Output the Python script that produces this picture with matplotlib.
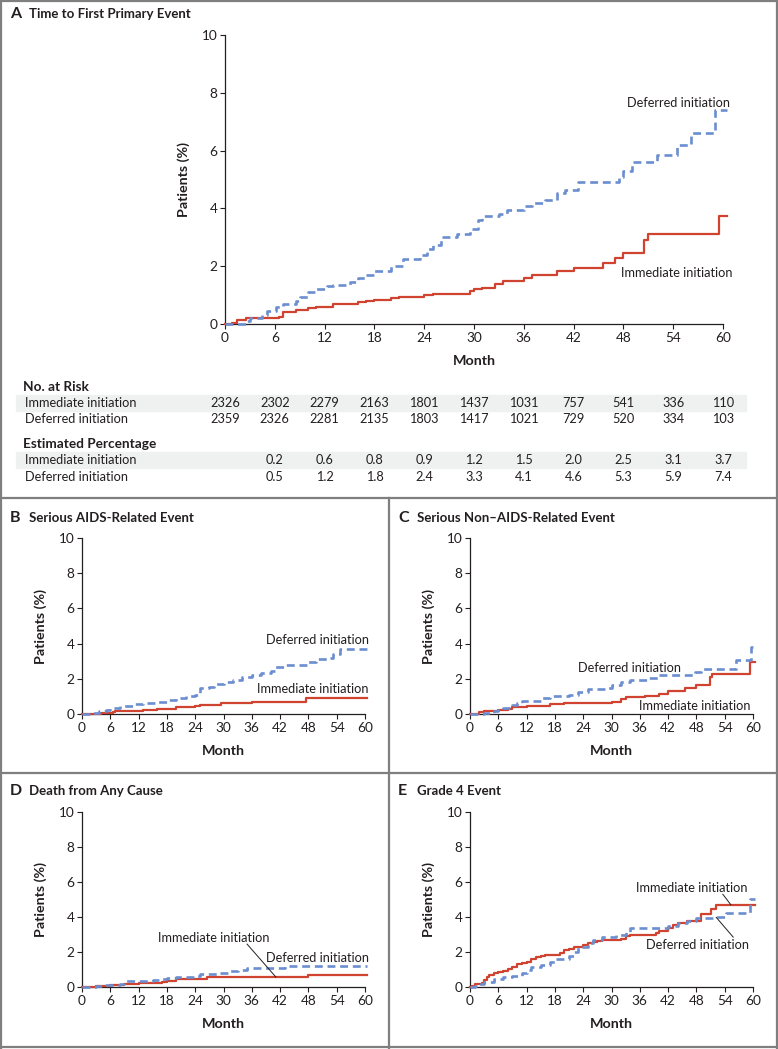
import matplotlib
matplotlib.use("Agg")
import matplotlib.pyplot as plt
import matplotlib.transforms as mtransforms
from matplotlib.patches import Rectangle
from matplotlib.lines import Line2D

plt.rcParams['font.family'] = ['Lato', 'DejaVu Sans']

# ---------------- data ----------------
risk_months = [0, 6, 12, 18, 24, 30, 36, 42, 48, 54, 60]
risk_immediate = [2326, 2302, 2279, 2163, 1801, 1437, 1031, 757, 541, 336, 110]
risk_deferred = [2359, 2326, 2281, 2135, 1803, 1417, 1021, 729, 520, 334, 103]

est_months = [6, 12, 18, 24, 30, 36, 42, 48, 54, 60]
est_immediate = ["0.2", "0.6", "0.8", "0.9", "1.2", "1.5", "2.0", "2.5", "3.1", "3.7"]
est_deferred = ["0.5", "1.2", "1.8", "2.4", "3.3", "4.1", "4.6", "5.3", "5.9", "7.4"]

# A: time to first primary event (month, cumulative %)
a_imm_t = [0, 0.8, 1.5, 2.5, 6.5, 7, 8.5, 10, 11, 13, 16, 17, 18, 20, 21, 24, 25, 29.5, 30,
           31, 32.5, 33.5, 36, 37, 40, 42, 45.5, 47, 48, 50.5, 51, 59.5, 60.5]
a_imm_p = [0, 0.05, 0.15, 0.2, 0.25, 0.4, 0.5, 0.55, 0.6, 0.7, 0.75, 0.8, 0.82, 0.9, 0.95, 1.0, 1.05,
           1.15, 1.2, 1.25, 1.4, 1.5, 1.6, 1.7, 1.85, 1.95, 2.1, 2.3, 2.45, 2.9, 3.1, 3.75, 3.75]
a_def_t = [0, 2.5, 3, 4.5, 5, 6.2, 7, 8.5, 9, 10, 11, 12.3, 13, 15, 16, 17, 18, 20, 21.5, 23.5,
           24.3, 25, 26, 28, 29.5, 30.5, 31, 33, 34, 36, 37, 38.5, 40, 41, 42.5, 47.5, 48, 49,
           52, 54.4, 56.2, 59, 60.5]
a_def_p = [0, 0.1, 0.2, 0.3, 0.45, 0.6, 0.7, 0.8, 0.95, 1.1, 1.2, 1.3, 1.35, 1.45, 1.6, 1.7, 1.85,
           2.0, 2.25, 2.4, 2.6, 2.75, 3.0, 3.1, 3.3, 3.6, 3.75, 3.8, 3.95, 4.1, 4.2, 4.3, 4.55,
           4.65, 4.9, 5.1, 5.3, 5.6, 5.85, 6.2, 6.6, 7.4, 7.4]

# B: serious AIDS-related event
b_imm_t = [0, 4, 6.5, 7, 13, 16, 20, 24, 25, 29.5, 36, 47.5, 60.5]
b_imm_p = [0, 0.05, 0.1, 0.15, 0.25, 0.3, 0.4, 0.45, 0.5, 0.6, 0.7, 0.9, 0.9]
b_def_t = [0, 2, 3.5, 5, 6, 8, 11, 13, 16, 18, 20, 22, 24, 25, 27, 28, 30, 32, 34, 36, 38, 40,
           41, 43, 48, 49.7, 52, 53.3, 54.7, 60.5]
b_def_p = [0, 0.05, 0.15, 0.25, 0.35, 0.45, 0.55, 0.6, 0.7, 0.8, 0.9, 1.0, 1.1, 1.5, 1.55, 1.7,
           1.8, 1.95, 2.1, 2.2, 2.35, 2.45, 2.65, 2.8, 2.95, 3.15, 3.2, 3.4, 3.7, 3.7]

# C: serious non-AIDS-related event
c_imm_t = [0, 2, 3, 6, 8, 9, 12, 17, 20, 22, 30, 32, 33, 37, 40, 42, 45.5, 48, 50.8, 51.3,
           59.4, 60.5]
c_imm_p = [0, 0.1, 0.15, 0.2, 0.3, 0.4, 0.45, 0.55, 0.6, 0.65, 0.7, 0.85, 0.95, 1.05, 1.15, 1.3,
           1.45, 1.65, 2.1, 2.3, 2.95, 2.95]
c_def_t = [0, 3, 5, 6, 7, 9, 10, 11, 15, 17, 21, 23, 25, 29, 30, 32, 34, 38, 40, 47.6, 49,
           56.5, 59.5, 60.5]
c_def_p = [0, 0.05, 0.15, 0.25, 0.35, 0.5, 0.65, 0.75, 0.9, 1.0, 1.1, 1.25, 1.4, 1.5, 1.65, 1.8,
           1.95, 2.05, 2.2, 2.4, 2.55, 3.05, 3.8, 3.8]

# D: death from any cause
d_imm_t = [0, 3, 6, 9, 12, 17, 18, 20, 26.5, 48, 60.5]
d_imm_p = [0, 0.05, 0.1, 0.2, 0.25, 0.3, 0.35, 0.45, 0.55, 0.7, 0.7]
d_def_t = [0, 3, 5, 8, 9, 15, 17, 18, 20, 23, 24, 25, 29, 31, 33, 35, 43, 60.5]
d_def_p = [0, 0.05, 0.1, 0.2, 0.35, 0.4, 0.45, 0.5, 0.55, 0.6, 0.65, 0.75, 0.8, 0.9, 1.0, 1.1,
           1.2, 1.2]

# E: grade 4 event
e_imm_t = [0, 0.5, 1, 2.5, 3, 3.5, 4, 5, 6, 7, 8, 9, 10, 11, 12, 13, 14, 15, 16, 19, 20, 21,
           22, 24, 25, 26, 27, 28, 32, 33, 34, 39.5, 40, 42, 43, 44, 46, 47, 49, 51, 52.2, 60.5]
e_imm_p = [0, 0.05, 0.15, 0.25, 0.4, 0.55, 0.7, 0.8, 0.85, 0.9, 1.05, 1.15, 1.3, 1.35, 1.45, 1.6,
           1.7, 1.8, 1.85, 1.95, 2.1, 2.2, 2.3, 2.4, 2.5, 2.6, 2.65, 2.7, 2.75, 2.9, 3.0, 3.1, 3.2,
           3.4, 3.55, 3.65, 3.75, 3.8, 4.2, 4.45, 4.7, 4.7]
e_def_t = [0, 1, 2, 3, 5, 7, 9, 11, 12, 13, 15, 17, 18, 21, 22, 23, 25, 26, 28, 31, 33, 34, 42,
           44, 46, 48, 52, 54.3, 59.4, 60.5]
e_def_p = [0, 0.05, 0.15, 0.3, 0.45, 0.55, 0.65, 0.8, 1.0, 1.15, 1.25, 1.45, 1.6, 1.75, 2.0, 2.3,
           2.5, 2.7, 2.85, 3.0, 3.15, 3.4, 3.5, 3.65, 3.8, 3.95, 4.0, 4.25, 5.05, 5.05]

# ---------------- layout ----------------
W, H = 778, 1049
RED = '#cf4330'
BLUE = '#6b8ed0'
INK = '#231f20'
FRAME = '#7f7f7f'

fig = plt.figure(figsize=(W / 100, H / 100), dpi=100)


def box(left, right, top, bottom):
    return [left / W, 1 - bottom / H, (right - left) / W, (bottom - top) / H]


def km_panel(rect, imm_t, imm_p, def_t, def_p):
    ax = fig.add_axes(rect)
    ax.step(imm_t, imm_p, where='post', color=RED, lw=1.6, clip_on=False, zorder=3)
    ax.step(def_t, def_p, where='post', color=BLUE, lw=1.9, ls=(0, (3.0, 1.8)),
            clip_on=False, zorder=4)
    ax.set_xlim(0, 60)
    ax.set_ylim(0, 10)
    ax.set_xticks(risk_months)
    ax.set_yticks([0, 2, 4, 6, 8, 10])
    ax.tick_params(direction='out', length=3.5, width=0.8, colors=INK, labelsize=9.8, pad=2)
    for s in ['top', 'right']:
        ax.spines[s].set_visible(False)
    for s in ['left', 'bottom']:
        ax.spines[s].set_color(INK)
        ax.spines[s].set_linewidth(0.9)
    ax.set_facecolor('none')
    pw = rect[2] * W
    ph = rect[3] * H
    ax.set_ylabel('Patients (%)', fontsize=10.3, fontweight='bold', color=INK)
    ax.yaxis.set_label_coords(-41 / pw, 0.5)
    ax.set_xlabel('Month', fontsize=10.3, fontweight='bold', color=INK)
    ax.xaxis.set_label_coords(0.5, -37 / ph)
    ax.xaxis.label.set_va('center')
    ax.yaxis.label.set_va('center')
    return ax


def panel_title(x, y, letter, text):
    fig.text((x) / W, 1 - y / H, letter, fontsize=11.5, fontweight='bold', color=INK,
             va='center', ha='left')
    fig.text((x + 19) / W, 1 - y / H, text, fontsize=9.5, fontweight='bold', color=INK,
             va='center', ha='left')


lab = dict(fontsize=9.2, color=INK, va='center')

# Panel A
axA = km_panel(box(225, 723, 35, 324), a_imm_t, a_imm_p, a_def_t, a_def_p)
axA.text(60.8, 7.65, 'Deferred initiation', ha='right', **lab)
axA.text(61.2, 1.76, 'Immediate initiation', ha='right', **lab)
panel_title(10, 14, 'A', 'Time to First Primary Event')

# risk table
tr = mtransforms.blended_transform_factory(axA.transData, fig.transFigure)
for y in [403, 460]:
    fig.patches.append(Rectangle((16 / W, 1 - (y + 8) / H), 730 / W, 16 / H,
                                 transform=fig.transFigure, color='#eff1f1', zorder=-5))
fig.text(23 / W, 1 - 387 / H, 'No. at Risk', fontsize=9.8, fontweight='bold', color=INK,
         va='center')
fig.text(25 / W, 1 - 403 / H, 'Immediate initiation', fontsize=9.2, color=INK, va='center')
fig.text(25 / W, 1 - 419 / H, 'Deferred initiation', fontsize=9.2, color=INK, va='center')
fig.text(23 / W, 1 - 444 / H, 'Estimated Percentage', fontsize=9.8, fontweight='bold',
         color=INK, va='center')
fig.text(25 / W, 1 - 460 / H, 'Immediate initiation', fontsize=9.2, color=INK, va='center')
fig.text(25 / W, 1 - 477 / H, 'Deferred initiation', fontsize=9.2, color=INK, va='center')
for m, a, b in zip(risk_months, risk_immediate, risk_deferred):
    axA.text(m, 1 - 403 / H, str(a), transform=tr, ha='center', va='center', fontsize=9.2,
             color=INK, clip_on=False)
    axA.text(m, 1 - 419 / H, str(b), transform=tr, ha='center', va='center', fontsize=9.2,
             color=INK, clip_on=False)
for m, a, b in zip(est_months, est_immediate, est_deferred):
    axA.text(m, 1 - 460 / H, a, transform=tr, ha='center', va='center', fontsize=9.2,
             color=INK, clip_on=False)
    axA.text(m, 1 - 477 / H, b, transform=tr, ha='center', va='center', fontsize=9.2,
             color=INK, clip_on=False)

# Panel B
axB = km_panel(box(82, 365, 538, 714), b_imm_t, b_imm_p, b_def_t, b_def_p)
axB.text(60.8, 4.2, 'Deferred initiation', ha='right', **lab)
axB.text(60.8, 1.42, 'Immediate initiation', ha='right', **lab)
panel_title(10, 518, 'B', 'Serious AIDS-Related Event')

# Panel C
axC = km_panel(box(470, 753, 538, 714), c_imm_t, c_imm_p, c_def_t, c_def_p)
axC.text(44.7, 2.6, 'Deferred initiation', ha='right', **lab)
axC.text(59.4, 0.45, 'Immediate initiation', ha='right', **lab)
panel_title(398, 518, 'C', 'Serious Non\u2013AIDS-Related Event')

# Panel D
axD = km_panel(box(82, 365, 812, 987), d_imm_t, d_imm_p, d_def_t, d_def_p)
axD.text(28.0, 2.8, 'Immediate initiation', ha='center', **lab)
axD.plot([35, 41.1], [2.45, 0.57], color=INK, lw=0.7, zorder=5)
axD.text(60.8, 1.66, 'Deferred initiation', ha='right', **lab)
panel_title(10, 791, 'D', 'Death from Any Cause')

# Panel E
axE = km_panel(box(470, 753, 812, 987), e_imm_t, e_imm_p, e_def_t, e_def_p)
axE.text(58.9, 5.66, 'Immediate initiation', ha='right', **lab)
axE.plot([53.6, 55.3], [5.3, 4.7], color=INK, lw=0.7, zorder=5)
axE.text(59.1, 2.4, 'Deferred initiation', ha='right', **lab)
axE.plot([52.2, 55.8], [3.98, 2.85], color=INK, lw=0.7, zorder=5)
panel_title(398, 791, 'E', 'Grade 4 Event')

# frames
def hline(y, x0, x1):
    fig.add_artist(Line2D([x0 / W, x1 / W], [1 - y / H, 1 - y / H], transform=fig.transFigure,
                          color=FRAME, lw=1.6))


def vline(x, y0, y1):
    fig.add_artist(Line2D([x / W, x / W], [1 - y0 / H, 1 - y1 / H], transform=fig.transFigure,
                          color=FRAME, lw=1.6))


hline(1, 0, W)
hline(1047, 0, W)
hline(498, 0, W)
hline(773, 0, W)
vline(1, 0, H)
vline(777, 0, H)
vline(389, 498, H)

fig.savefig('out.png', dpi=100)
